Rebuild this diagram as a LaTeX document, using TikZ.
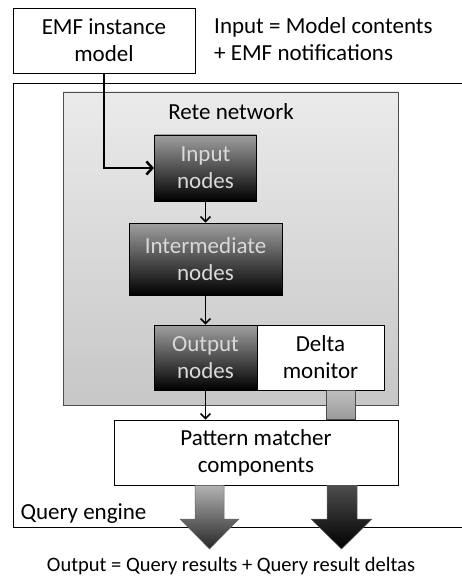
\documentclass[tikz,border=0pt]{standalone}
\usepackage{fontspec}
\setmainfont{Carlito}
\usetikzlibrary{calc,arrows.meta}
\begin{document}
\begin{tikzpicture}
            [x=1pt, y=-1pt, font=\fontsize{23}{27}\selectfont,
            whitebox/.style={draw, thick, fill=white, align=center, inner sep=0pt},
            retenode/.style={draw, thick, top color=gray!75, bottom color=black, text=white!85!black, align=center, inner sep=0pt},
            flow/.style={-{Straight Barb[length=5pt,width=10pt]}, line width=1.5pt},
            bigarrow/.style={draw=black!60, line width=0.5pt}]
            \useasboundingbox (0,0) rectangle (461,580);
            %\draw [help lines] (0,0) grid (461,580);
            \node (engine) [draw, thick, minimum width=450, minimum height=444, anchor=north west, inner sep=0pt] at (13,83) {};
            \node (qelabel) [anchor=west] at (17,514) {Query engine};
            \node (rete) [draw=black!70, top color=black!8, bottom color=black!22, minimum width=335, minimum height=313, inner sep=0pt] at (230.5,248.5) {};
            \node (retelabel) at (231,112) {Rete network};
            \node (emf) [whitebox, minimum width=182, minimum height=65] at (104,40.5) {EMF instance\\model};
            \node (input) [anchor=west, align=left, inner sep=0pt] at (214,39) {Input = Model contents\\+ EMF notifications};
            \node (in) [retenode, minimum width=102, minimum height=66] at (205.5,168) {Input\\nodes};
            \node (mid) [retenode, minimum width=153, minimum height=72] at (205.5,259) {Intermediate\\nodes};
            \node (out) [retenode, minimum width=103, minimum height=65] at (205.5,357.5) {Output\\nodes};
            \node (delta) [whitebox, minimum width=127, minimum height=65] at (320.5,357.5) {Delta\\monitor};
            \node (pm) [whitebox, minimum width=284, minimum height=65] at (256,452.5) {Pattern matcher\\components};
            % connectors
            \draw [flow, line width=2.5pt, -{Straight Barb[length=6pt,width=13pt]}] (emf.south) |- (in.west);
            \draw [flow] (in) -- (mid);
            \draw [flow] (mid) -- (out);
            \draw [flow] (out) -- (out |- pm.north);
            \shade [draw=black!70, top color=black!25, bottom color=black!40] (326,0 |- delta.south) rectangle (355,0 |- pm.north);
            % big output arrows
            \shade [bigarrow, top color=black!30, bottom color=black!85]
              (195,0 |- pm.south) -- (224,0 |- pm.south) -- (224,519) -- (239,519) -- (209.5,549) -- (180,519) -- (195,519) -- cycle;
            \shade [bigarrow, top color=black!70, bottom color=black]
              (327,0 |- pm.south) -- (357,0 |- pm.south) -- (357,519) -- (372,519) -- (341.5,549) -- (311,519) -- (327,519) -- cycle;
            \node (output) [font=\fontsize{20.5}{24}\selectfont] at (231,566) {Output = Query results + Query result deltas};
        \end{tikzpicture}
\end{document}
